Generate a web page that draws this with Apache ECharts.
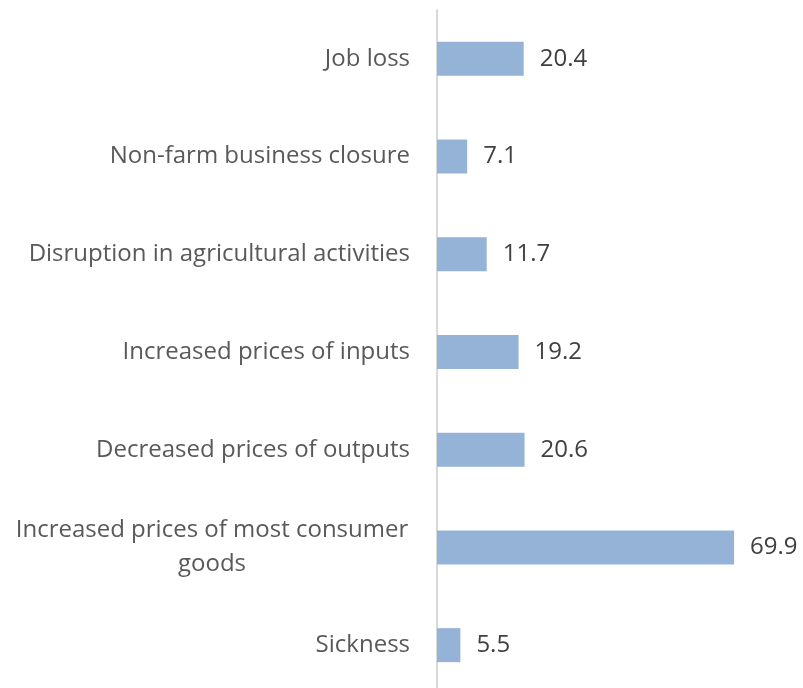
<!DOCTYPE html>
<html>
<head>
<meta charset="utf-8">
<script src="https://cdn.jsdelivr.net/npm/echarts@6/dist/echarts.min.js"></script>
<style>
html,body{margin:0;padding:0;background:#fff;overflow:hidden;}
#chart{width:803px;height:694px;}
</style>
</head>
<body>
<div id="chart"></div>
<script>
const categories = [
  "Job loss",
  "Non-farm business closure",
  "Disruption in agricultural activities",
  "Increased prices of inputs",
  "Decreased prices of outputs",
  "Increased prices of most consumer goods",
  "Sickness"
];
const values = [20.4, 7.1, 11.7, 19.2, 20.6, 69.9, 5.5];

const FONT = "'Open Sans', sans-serif";
const chart = echarts.init(document.getElementById('chart'));
chart.setOption({
  animation: false,
  grid: { left: 437, right: 26, top: 10, bottom: 0, containLabel: false },
  xAxis: {
    type: 'value', min: 0, max: 80,
    show: false
  },
  yAxis: {
    type: 'category',
    inverse: true,
    data: categories,
    axisLine: { show: true, lineStyle: { color: '#d9d9d9', width: 2 } },
    axisTick: { show: false },
    axisLabel: {
      margin: 27,
      color: '#595959',
      fontFamily: FONT,
      fontSize: 24,
      formatter: function (v) {
        if (v === "Increased prices of most consumer goods") {
          return '{c|Increased prices of most consumer}\n{c|goods}';
        }
        return v;
      },
      rich: {
        c: { width: 396, align: 'center', fontFamily: FONT, fontSize: 24, color: '#595959', lineHeight: 34 }
      }
    }
  },
  series: [{
    type: 'bar',
    data: values,
    barWidth: 34,
    itemStyle: { color: '#95b3d7' },
    label: {
      show: true,
      position: 'right',
      distance: 16,
      color: '#404040',
      fontFamily: FONT,
      fontSize: 24
    }
  }]
});
</script>
</body>
</html>
